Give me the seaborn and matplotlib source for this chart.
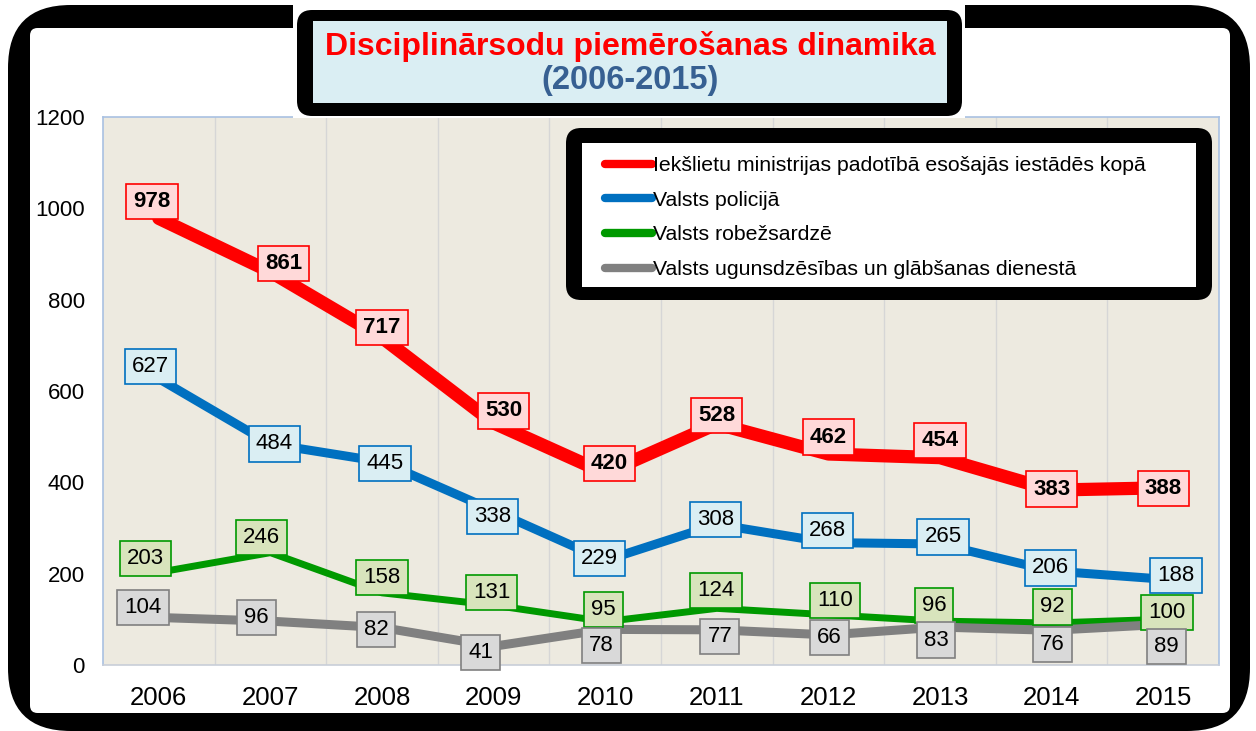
import pandas as pd
import matplotlib.pyplot as plt
import seaborn as sns
from matplotlib.patches import FancyBboxPatch, Rectangle

# data
years = [2006, 2007, 2008, 2009, 2010, 2011, 2012, 2013, 2014, 2015]
series_names = [
    'Iekšlietu ministrijas padotībā esošajās iestādēs kopā',
    'Valsts policijā',
    'Valsts robežsardzē',
    'Valsts ugunsdzēsības un glābšanas dienestā',
]
total = [978, 861, 717, 530, 420, 528, 462, 454, 383, 388]
police = [627, 484, 445, 338, 229, 308, 268, 265, 206, 188]
border = [203, 246, 158, 131, 95, 124, 110, 96, 92, 100]
fire = [104, 96, 82, 41, 78, 77, 66, 83, 76, 89]
values = [total, police, border, fire]

# styles
line_colors = ['#FF0000', '#0070C0', '#009900', '#808080']
line_widths = [9.5, 6.5, 5.0, 6.5]
box_faces = ['#FFD9D9', '#DAEEF3', '#D8E4BC', '#D9D9D9']
# label offsets in pixels (dx, dy), dy positive = up
label_off = [
    [(-7, 17), (13, 8), (0, 10), (10, 12), (4, 10), (0, 8), (0, 17), (0, 17), (0, 1), (0, -1)],
    [(-8, 12), (4, 0), (3, -2), (-1, -6), (-6, 2), (-1, 5), (-1, 12), (3, 7), (-1, 3), (13, 4)],
    [(-13, 14), (-9, 15), (0, 15), (-2, 13), (-2, 12), (-1, 18), (7, 14), (-6, 16), (1, 16), (4, 7)],
    [(-16, 10), (-14, 4), (-6, -2), (-13, -6), (-4, -16), (3, -7), (1, -3), (-4, -13), (1, -14), (3, -22)],
]

rows = []
for name, vals in zip(series_names, values):
    for y, v in zip(years, vals):
        rows.append({'Year': y, 'Count': v, 'Series': name})
df = pd.DataFrame(rows)

sns.set_style('white')
plt.rcParams['font.family'] = ['Liberation Sans', 'DejaVu Sans']
plt.rcParams['text.color'] = 'black'
plt.rcParams['xtick.color'] = 'black'
plt.rcParams['ytick.color'] = 'black'

W, H = 1256, 731
fig = plt.figure(figsize=(W / 100, H / 100), dpi=100)

def fx(px):
    return px / W

def fy(py):
    return 1 - py / H

# outer frame
fig.patches.append(FancyBboxPatch((fx(8), fy(731)), fx(1250) - fx(8), fy(5) - fy(731),
                                  boxstyle='round,pad=0,rounding_size=0.05', transform=fig.transFigure,
                                  facecolor='black', edgecolor='none', zorder=-2, mutation_aspect=W / H))
fig.patches.append(FancyBboxPatch((fx(30), fy(713)), fx(1230) - fx(30), fy(28) - fy(713),
                                  boxstyle='round,pad=0,rounding_size=0.006', transform=fig.transFigure,
                                  facecolor='white', edgecolor='none', zorder=-1, mutation_aspect=W / H))

ax = fig.add_axes([fx(103), fy(665), fx(1219) - fx(103), fy(117) - fy(665)])
ax.set_facecolor('#EDEAE0')

sns.lineplot(data=df, x='Year', y='Count', hue='Series', size='Series',
             palette=dict(zip(series_names, line_colors)),
             sizes=dict(zip(series_names, line_widths)),
             hue_order=series_names, size_order=series_names,
             ax=ax, legend=True, solid_capstyle='round', solid_joinstyle='round')

ax.set_xlim(2005.5, 2015.5)
ax.set_ylim(0, 1200)
ax.set_xticks(years)
ax.set_xticklabels([str(y) for y in years], fontsize=18.5)
ax.set_yticks(range(0, 1201, 200))
ax.set_yticklabels([str(v) for v in range(0, 1201, 200)], fontsize=16)
ax.tick_params(axis='x', length=0, pad=15)
ax.tick_params(axis='y', length=0, pad=13)
ax.set_xlabel('')
ax.set_ylabel('')
for x in years[:-1]:
    ax.axvline(x + 0.5, color='#D6D6D6', lw=1, zorder=0.5)
for sp in ax.spines.values():
    sp.set_color('#A9C1E2')
    sp.set_linewidth(1.2)
ax.spines['bottom'].set_color('#C8CED8')

# data labels
for i, vals in enumerate(values):
    for j, v in enumerate(vals):
        dx, dy = label_off[i][j]
        ax.annotate(str(v), (years[j], v), xytext=(dx * 0.72, dy * 0.72), textcoords='offset points',
                    ha='center', va='center', fontsize=16,
                    fontweight='bold' if i == 0 else 'normal', color='black', zorder=6,
                    bbox=dict(boxstyle='square,pad=0.32', facecolor=box_faces[i],
                              edgecolor=line_colors[i], linewidth=1.2))

# legend box
ax.add_patch(FancyBboxPatch((fx(566), fy(300)), fx(1212) - fx(566), fy(128) - fy(300),
                            boxstyle='round,pad=0,rounding_size=0.012', transform=fig.transFigure,
                            facecolor='black', edgecolor='none', zorder=7, clip_on=False,
                            mutation_aspect=W / H))
ax.add_patch(Rectangle((fx(582), fy(287)), fx(1196) - fx(582), fy(143) - fy(287),
                       transform=fig.transFigure, facecolor='white', edgecolor='none',
                       zorder=7.1, clip_on=False))
handles, labels = ax.get_legend_handles_labels()
for h in handles:
    h.set_linewidth(6)
leg = ax.legend(handles, labels, loc='upper left', bbox_to_anchor=(fx(588), fy(139)),
                bbox_transform=fig.transFigure, frameon=False, fontsize=15.3,
                handlelength=2.2, handletextpad=0.08, labelspacing=0.74, borderpad=0.3)
leg.set_zorder(8)

# title box
fig.patches.append(Rectangle((fx(293), fy(118)), fx(965) - fx(293), fy(5) - fy(118),
                             transform=fig.transFigure, facecolor='white', edgecolor='none', zorder=1))
fig.patches.append(FancyBboxPatch((fx(297), fy(116)), fx(962) - fx(297), fy(10) - fy(116),
                                  boxstyle='round,pad=0,rounding_size=0.012', transform=fig.transFigure,
                                  facecolor='black', edgecolor='none', zorder=1.1, mutation_aspect=W / H))
fig.patches.append(Rectangle((fx(313), fy(103)), fx(947) - fx(313), fy(21) - fy(103),
                             transform=fig.transFigure, facecolor='#DAEEF3', edgecolor='none', zorder=1.2))
fig.text(fx(630), fy(47), 'Disciplinārsodu piemērošanas dinamika', ha='center', va='center',
         fontsize=23, fontweight='bold', color='#FF0000', zorder=2)
fig.text(fx(630), fy(81), '(2006-2015)', ha='center', va='center',
         fontsize=23.5, fontweight='bold', color='#376092', zorder=2)

fig.savefig('out.png', dpi=100)
